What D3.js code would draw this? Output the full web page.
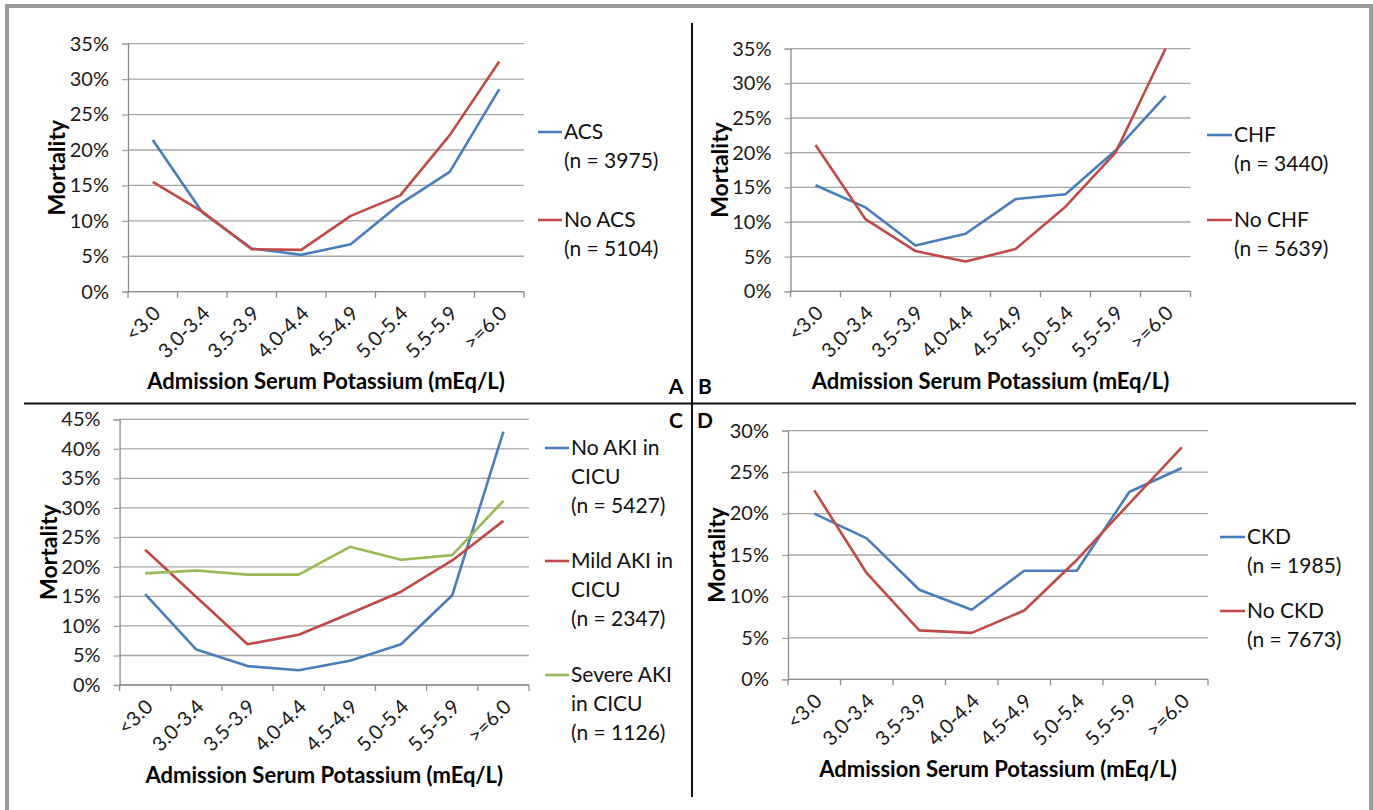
<!DOCTYPE html>
<html>
<head>
<meta charset="utf-8">
<script src="https://cdn.jsdelivr.net/npm/d3@7"></script>
<style>
  body { margin: 0; background: #fff; }
  svg { display: block; font-family: Lato, "Open Sans", sans-serif; }
</style>
</head>
<body>
<div class="canva"></div>
<script>
// categories on the x axis
const categories = ['<3.0', '3.0-3.4', '3.5-3.9', '4.0-4.4', '4.5-4.9', '5.0-5.4', '5.5-5.9', '>=6.0'];

// mortality in %
const acs       = [21.4, 11.2, 6.1, 5.2, 6.7, 12.4, 16.9, 28.6];
const noAcs     = [15.5, 11.3, 6.0, 5.9, 10.7, 13.6, 22.1, 32.5];
const chf       = [15.3, 12.1, 6.6, 8.3, 13.3, 14.0, 20.3, 28.2];
const noChf     = [21.1, 10.4, 5.8, 4.3, 6.1, 12.2, 20.0, 35.0];
const noAki     = [15.4, 6.0, 3.2, 2.5, 4.1, 6.9, 15.2, 42.9];
const mildAki   = [22.9, 14.9, 6.9, 8.5, 12.1, 15.8, 21.1, 27.8];
const severeAki = [18.9, 19.4, 18.7, 18.7, 23.4, 21.2, 22.0, 31.2];
const ckd       = [20.0, 17.0, 10.8, 8.4, 13.1, 13.1, 22.6, 25.5];
const noCkd     = [22.8, 12.8, 5.9, 5.6, 8.3, 14.4, 21.2, 28.0];

// y tick values per panel
const yTicks35 = [0, 5, 10, 15, 20, 25, 30, 35];
const yTicks45 = [0, 5, 10, 15, 20, 25, 30, 35, 40, 45];
const yTicks30 = [0, 5, 10, 15, 20, 25, 30];

// legend texts
const legendA = [['ACS', '(n = 3975)'], ['No ACS', '(n = 5104)']];
const legendB = [['CHF', '(n = 3440)'], ['No CHF', '(n = 5639)']];
const legendC = [['No AKI in', 'CICU', '(n = 5427)'], ['Mild AKI in', 'CICU', '(n = 2347)'], ['Severe AKI', 'in CICU', '(n = 1126)']];
const legendD = [['CKD', '(n = 1985)'], ['No CKD', '(n = 7673)']];

const panelLetters = ['A', 'B', 'C', 'D'];

const BLUE = '#4a7ebb', RED = '#be4b48', GREEN = '#98b954';

const svg = d3.select('.canva').append('svg')
  .attr('width', 1373)
  .attr('height', 810);

// gray outer frame (bottom edge runs off the picture)
svg.append('rect')
  .attr('x', 7).attr('y', 6)
  .attr('width', 1364).attr('height', 900)
  .attr('fill', 'none')
  .attr('stroke', '#9b9b9b')
  .attr('stroke-width', 4);

// quadrant dividers
svg.append('line')
  .attr('x1', 24).attr('x2', 1356)
  .attr('y1', 403.5).attr('y2', 403.5)
  .attr('stroke', '#111').attr('stroke-width', 2.2);
svg.append('line')
  .attr('x1', 692).attr('x2', 692)
  .attr('y1', 23).attr('y2', 797)
  .attr('stroke', '#111').attr('stroke-width', 2);

// panel letters
const letterPos = [[676, 387], [705, 387], [676, 421], [705, 421]];
svg.selectAll('.letter')
  .data(panelLetters)
  .enter().append('text')
  .attr('class', 'letter')
  .attr('x', (d, i) => letterPos[i][0])
  .attr('y', (d, i) => letterPos[i][1])
  .attr('dy', '0.35em')
  .attr('text-anchor', 'middle')
  .attr('font-weight', 'bold')
  .attr('font-size', 21)
  .text(d => d);

const panels = [
  { box: { left: 128, right: 524, top: 43.7, bottom: 291.7 }, yTicks: yTicks35,
    series: [acs, noAcs], colors: [BLUE, RED], legend: legendA,
    leg: { x1: 538, x2: 562, tx: 564, y: [132, 220] } },
  { box: { left: 790.5, right: 1190.5, top: 48.7, bottom: 291.3 }, yTicks: yTicks35,
    series: [chf, noChf], colors: [BLUE, RED], legend: legendB,
    leg: { x1: 1207, x2: 1232, tx: 1234, y: [135, 220] } },
  { box: { left: 119.6, right: 529, top: 419.3, bottom: 685 }, yTicks: yTicks45,
    series: [noAki, mildAki, severeAki], colors: [BLUE, RED, GREEN], legend: legendC,
    leg: { x1: 545, x2: 569, tx: 571, y: [448, 561, 675] } },
  { box: { left: 788, right: 1208, top: 430.7, bottom: 679.3 }, yTicks: yTicks30,
    series: [ckd, noCkd], colors: [BLUE, RED], legend: legendD,
    leg: { x1: 1220, x2: 1245, tx: 1247, y: [537, 611] } }
];

panels.forEach(p => {
  const b = p.box;
  const g = svg.append('g');

  const x = d3.scaleBand()
    .domain(categories)
    .range([b.left, b.right])
    .padding(0);
  const y = d3.scaleLinear()
    .domain([0, d3.max(p.yTicks)])
    .range([b.bottom, b.top]);

  // gridlines
  g.selectAll('.grid')
    .data(p.yTicks)
    .enter().append('line')
    .attr('x1', b.left).attr('x2', b.right)
    .attr('y1', d => y(d)).attr('y2', d => y(d))
    .attr('stroke', '#a6a6a6')
    .attr('stroke-width', 1.3);

  // y axis
  const yAxis = d3.axisLeft(y)
    .tickValues(p.yTicks)
    .tickSize(6)
    .tickPadding(13)
    .tickFormat(d => d + '%');
  const yg = g.append('g')
    .attr('transform', `translate(${b.left},0)`)
    .call(yAxis);
  yg.select('.domain').attr('stroke', '#8c8c8c').attr('stroke-width', 1.3);
  yg.selectAll('.tick line').attr('stroke', '#a6a6a6').attr('stroke-width', 1.3);
  yg.selectAll('.tick text')
    .attr('font-family', 'Lato, sans-serif')
    .attr('font-size', 20)
    .attr('fill', '#1a1a1a');

  // x axis: domain line and boundary ticks
  const xg = g.append('g').attr('transform', `translate(0,${b.bottom})`);
  xg.append('line')
    .attr('x1', b.left).attr('x2', b.right)
    .attr('stroke', '#8c8c8c').attr('stroke-width', 1.3);
  xg.selectAll('.xtick')
    .data(categories.concat(['end']))
    .enter().append('line')
    .attr('x1', d => d === 'end' ? b.right : x(d))
    .attr('x2', d => d === 'end' ? b.right : x(d))
    .attr('y1', 0).attr('y2', 6)
    .attr('stroke', '#8c8c8c').attr('stroke-width', 1.3);
  xg.selectAll('.xlabel')
    .data(categories)
    .enter().append('text')
    .attr('transform', d => `translate(${x(d) + x.bandwidth() / 2 + 4},${18}) rotate(-45)`)
    .attr('text-anchor', 'end')
    .attr('dy', '0.35em')
    .attr('font-size', 20)
    .attr('fill', '#1a1a1a')
    .text(d => d);

  // titles
  g.append('text')
    .attr('transform', `translate(${b.left - 71},${(b.top + b.bottom) / 2}) rotate(-90)`)
    .attr('text-anchor', 'middle')
    .attr('dy', '0.35em')
    .attr('font-weight', 'bold')
    .attr('font-size', 23)
    .text('Mortality');
  g.append('text')
    .attr('x', (b.left + b.right) / 2)
    .attr('y', b.bottom + 90)
    .attr('dy', '0.35em')
    .attr('text-anchor', 'middle')
    .attr('font-weight', 'bold')
    .attr('font-size', 22)
    .text('Admission Serum Potassium (mEq/L)');

  // lines
  const line = d3.line()
    .x((d, i) => x(categories[i]) + x.bandwidth() / 2)
    .y(d => y(d));
  g.selectAll('.series')
    .data(p.series)
    .enter().append('path')
    .attr('d', d => line(d))
    .attr('fill', 'none')
    .attr('stroke', (d, i) => p.colors[i])
    .attr('stroke-width', 2.6)
    .attr('stroke-linejoin', 'round');

  // legend
  p.legend.forEach((rows, i) => {
    const ly = p.leg.y[i];
    g.append('line')
      .attr('x1', p.leg.x1).attr('x2', p.leg.x2)
      .attr('y1', ly).attr('y2', ly)
      .attr('stroke', p.colors[i])
      .attr('stroke-width', 2.6);
    rows.forEach((r, j) => {
      g.append('text')
        .attr('x', p.leg.tx)
        .attr('y', ly + j * 29)
        .attr('dy', '0.35em')
        .attr('font-size', 21)
        .attr('fill', '#111')
        .text(r);
    });
  });
});
</script>
</body>
</html>
